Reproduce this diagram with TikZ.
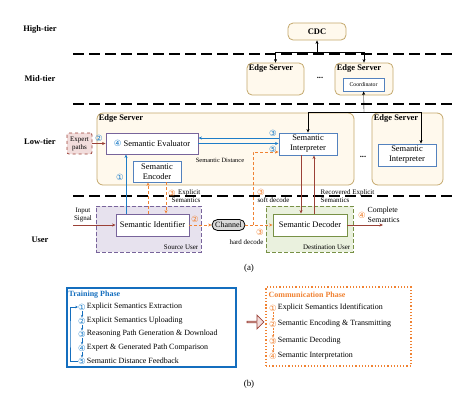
\documentclass[tikz,border=0pt]{standalone}
\usepackage{fontspec}
\setmainfont{Liberation Serif}
\newfontfamily\cnumfont{DejaVu Sans}
\usetikzlibrary{arrows.meta,shapes.arrows}

\definecolor{srvfill}{RGB}{255,249,237}
\definecolor{srvline}{RGB}{196,168,108}
\definecolor{boxblue}{RGB}{84,130,190}
\definecolor{arrblue}{RGB}{30,125,200}
\definecolor{orng}{RGB}{240,130,50}
\definecolor{brick}{RGB}{155,65,55}
\definecolor{pinkfill}{RGB}{242,221,220}
\definecolor{srcfill}{RGB}{231,226,238}
\definecolor{srcline}{RGB}{120,100,155}
\definecolor{dstfill}{RGB}{234,241,222}
\definecolor{dstline}{RGB}{120,145,70}
\definecolor{chanfill}{RGB}{217,217,217}
\definecolor{trainblue}{RGB}{20,110,190}

\newcommand{\fsz}[2]{\fontsize{#1}{#2}\selectfont}
\newcommand{\cn}[2]{{\color{#1}\cnumfont\fsz{8.5}{9}#2}}

\tikzset{
  tier/.style={font=\bfseries\fsz{8.5}{10}},
  server/.style={draw=srvline, fill=srvfill, rounded corners=5bp, line width=0.8bp},
  srvname/.style={anchor=north west, inner sep=2bp, font=\bfseries\fsz{8.5}{10}},
  module/.style={draw=boxblue, fill=white, line width=0.9bp, align=center, inner sep=1bp, font=\fsz{8.5}{10}},
  sep/.style={line width=1.3bp, dash pattern=on 11bp off 5bp},
  lbl/.style={inner sep=0.5bp, font=\fsz{7}{8}, align=center},
  cnum/.style={inner sep=0.2bp, font=\cnumfont\fsz{8.5}{9}},
  cnb/.style={cnum, text=arrblue},
  cno/.style={cnum, text=orng},
  blu/.style={->, draw=arrblue, line width=0.9bp},
  org/.style={->, draw=orng, line width=0.9bp, dash pattern=on 3bp off 2bp},
  brk/.style={->, draw=brick, line width=0.9bp},
  item/.style={anchor=west, inner sep=0.5bp, font=\fsz{8}{9}}
}

\begin{document}
\begin{tikzpicture}[x=1bp,y=-1bp,>={Stealth[length=3.5bp,width=3bp]}]
    \useasboundingbox (0,0) rectangle (470,403);

    %Tiers
    \node[tier] (high) at (40,29) {High-tier};
    \node[tier] (mid) at (40,79) {Mid-tier};
    \node[tier] (low) at (40,142) {Low-tier};
    \node[tier] (usr) at (40,240) {User};
    \draw[sep] (73,54) -- (457,54);
    \draw[sep] (73,104) -- (457,104);
    \draw[sep] (73,196) -- (457,196);

    %CDC
    \node[server, minimum width=58bp, minimum height=17bp, font=\bfseries\fsz{8.5}{10}] (cdc) at (317,31.5) {CDC};
    %Mid-tier servers
    \node[server, minimum width=57bp, minimum height=32bp] (esa) at (275.5,79) {};
    \node[srvname] (esat) at (esa.north west) {Edge Server};
    \node[font=\bfseries\fsz{8.5}{10}] (dotsa) at (320,78) {...};
    \node[server, minimum width=58bp, minimum height=32bp] (esb) at (364,79) {};
    \node[srvname] (esbt) at (esb.north west) {Edge Server};
    \node[module, minimum width=41bp, minimum height=13bp, font=\fsz{5.8}{7}] (coord) at (363.5,84.5) {Coordinator};
    \coordinate (jc) at (317,52);
    \draw[->] (jc) -- (cdc);
    \draw[->] (jc) -| (esa.north);
    \draw[->] (jc) -| (esb.north);

    %Low-tier servers
    \node[server, rounded corners=6bp, minimum width=257bp, minimum height=72bp] (esc) at (225.5,149) {};
    \node[srvname] (esct) at (esc.north west) {Edge Server};
    \node[font=\bfseries\fsz{8.5}{10}] (dotsb) at (363,157) {...};
    \node[server, rounded corners=6bp, minimum width=71bp, minimum height=72bp] (esd) at (407.5,149) {};
    \node[srvname] (esdt) at (esd.north west) {Edge Server};
    \node[draw=brick, fill=pinkfill, dashed, line width=0.8bp, rounded corners=2bp, minimum width=25bp, minimum height=21bp, lbl] (exp) at (79.5,143.5) {Expert\\paths};
    \node[module, draw=srcline, minimum width=92bp, minimum height=21bp] (eval) at (152,143.5) {\cn{arrblue}{④} Semantic Evaluator};
    \node[module, minimum width=48bp, minimum height=21bp] (enc) at (157,171.5) {Semantic\\Encoder};
    \node[module, minimum width=58bp, minimum height=22bp] (intp) at (308,144) {Semantic\\Interpreter};
    \node[module, minimum width=58bp, minimum height=22bp] (intq) at (407,155) {Semantic\\Interpreter};
    \coordinate (jl) at (364,112);
    \draw[->] (jl) -- (coord);
    \draw[->] (jl) -| (intp.north);
    \draw[->] (jl) -| ([xshift=14bp]intq.north);

    %Users
    \node[draw=srcline, fill=srcfill, line width=0.9bp, dash pattern=on 4bp off 2bp, minimum width=105bp, minimum height=46bp] (src) at (148.5,229) {};
    \node[lbl, anchor=south east, inner sep=3bp] (srct) at (src.south east) {Source User};
    \node[module, draw=srcline, minimum width=73bp, minimum height=22bp] (ident) at (152.5,225) {Semantic Identifier};
    \node[draw, fill=chanfill, line width=0.8bp, rounded corners=5.5bp, minimum width=33bp, minimum height=11bp, inner sep=0.5bp, font=\fsz{8}{9}] (chan) at (228.5,225) {Channel};
    \node[draw=dstline, fill=dstfill, line width=0.9bp, dash pattern=on 4bp off 2bp, minimum width=87bp, minimum height=46bp] (dst) at (309.5,229) {};
    \node[lbl, anchor=south east, inner sep=3bp] (dstt) at (dst.south east) {Destination User};
    \node[module, draw=dstline, minimum width=74bp, minimum height=22bp] (dec) at (310,225) {Semantic Decoder};

    %Training flow
    \draw[brk] (exp) -- (eval);
    \node[cnb] (n2) at (99,138) {②};
    \coordinate (b1) at ([xshift=-26.5bp]ident.north);
    \draw[blu] (b1) -- (b1 |- eval.south);
    \node[cnb] (n1) at (120,177) {①};
    \draw[blu] ([yshift=6bp]intp.west) -- ([yshift=6bp]intp.west -| eval.east);
    \node[cnb] (n3) at (273,133.5) {③};
    \draw[blu] (eval.east) -- (eval.east -| intp.west);
    \node[cnb] (n5) at (273,149) {⑤};
    \node[lbl, font=\fsz{6.5}{7.5}] (sdist) at (220,160) {Semantic Distance};

    %Communication flow
    \coordinate (o1) at ([xshift=-4.5bp]ident.north);
    \draw[org] (o1) -- (o1 |- enc.south);
    \coordinate (o2) at ([xshift=9bp]enc.south);
    \draw[org] (o2) -- (o2 |- ident.north);
    \node[cno] (m1) at (172,193) {③};
    \node[lbl, align=right, anchor=east] (expl) at (201,196.5) {Explicit\\Semantics};
    \draw[org] (ident) -- (chan);
    \node[cno] (m2) at (195,219) {②};
    \draw[org] (chan) -- (dec);
    \coordinate (sd) at (253,225);
    \draw[org] (sd) |- ([yshift=-8bp]intp.west);
    \node[cno] (m3) at (261,192) {③};
    \node[lbl] (soft) at (273.5,200.5) {soft decode};
    \node[cno] (m4) at (260,232) {③};
    \node[lbl] (hard) at (246.5,242) {hard decode};
    \coordinate (in) at (73,225);
    \draw[brk] (in) -- (ident);
    \node[lbl] (insig) at (83,215) {Input\\Signal};
    \coordinate (r1) at ([xshift=-7bp]intp.south);
    \draw[brk] (r1) -- (r1 |- dec.north);
    \coordinate (r2) at ([xshift=4bp]dec.north);
    \draw[brk] (r2) -- (r2 |- intp.south);
    \node[lbl, align=left, anchor=west] (recv) at (320,196) {Recovered Explicit\\Semantics};
    \coordinate (out) at (383,225);
    \draw[brk] (dec) -- (out);
    \node[cno] (m5) at (362,215) {④};
    \node[lbl, align=left, anchor=west, font=\fsz{7.8}{9.5}] (cmpl) at (367,215) {Complete\\Semantics};
    \node[font=\fsz{9}{10}] (capa) at (249,268) {(a)};

    %Training Phase
    \node[draw=trainblue, line width=1.2bp, minimum width=169bp, minimum height=79bp] (train) at (151.5,327.5) {};
    \node[item, font=\bfseries\fsz{8}{9}, text=trainblue] (traint) at (68,295) {Training Phase};
    \node[cnb] (t1) at (82,307) {①};
    \node[cnb] (t2) at (82,321) {②};
    \node[cnb] (t3) at (82,334) {③};
    \node[cnb] (t4) at (82,348) {④};
    \node[cnb] (t5) at (82,361) {⑤};
    \node[item] (t1x) at (t1.east) {Explicit Semantics Extraction};
    \node[item] (t2x) at (t2.east) {Explicit Semantics Uploading};
    \node[item] (t3x) at (t3.east) {Reasoning Path Generation \& Download};
    \node[item] (t4x) at (t4.east) {Expert \& Generated Path Comparison};
    \node[item] (t5x) at (t5.east) {Semantic Distance Feedback};
    \foreach \a/\b in {t1/t2,t2/t3,t3/t4,t4/t5}
        \draw[->, >={Stealth[length=2.5bp,width=2.5bp]}, trainblue, line width=0.8bp] (\a) -- (\b);
    \coordinate (lp) at (70,0);
    \draw[->, >={Stealth[length=2.5bp,width=2.5bp]}, trainblue, line width=0.8bp] (t5.west) -| (lp |- t3) |- (t1.west);

    %Arrow
    \node[single arrow, draw=brick, fill=pinkfill, line width=0.8bp, minimum height=17bp, minimum width=14bp, single arrow head extend=3bp, inner sep=0pt] (big) at (255,322) {};

    %Communication Phase
    \node[draw=orng, line width=1.2bp, dotted, minimum width=145bp, minimum height=79bp] (comm) at (338.5,326.5) {};
    \node[item, font=\bfseries\fsz{8}{9}, text=orng] (commt) at (268,295) {Communication Phase};
    \node[cno] (c1) at (273,308) {①};
    \node[cno] (c2) at (273,324) {②};
    \node[cno] (c3) at (273,341) {③};
    \node[cno] (c4) at (273,356) {④};
    \node[item] (c1x) at (c1.east) {Explicit Semantics Identification};
    \node[item] (c2x) at (c2.east) {Semantic Encoding \& Transmitting};
    \node[item] (c3x) at (c3.east) {Semantic Decoding};
    \node[item] (c4x) at (c4.east) {Semantic Interpretation};
    \foreach \a/\b in {c1/c2,c2/c3,c3/c4}
        \draw[->, >={Stealth[length=2.5bp,width=2.5bp]}, orng, line width=0.8bp, dash pattern=on 2bp off 1bp] (\a) -- (\b);
    \node[font=\fsz{9}{10}] (capb) at (249,384) {(b)};
\end{tikzpicture}
\end{document}
